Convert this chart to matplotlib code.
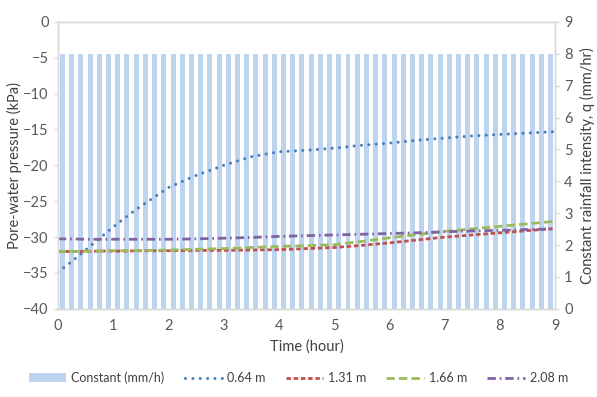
import matplotlib

matplotlib.use("Agg")
import matplotlib.pyplot as plt
import numpy as np

plt.rcParams["font.family"] = ["Lato", "DejaVu Sans"]

# pore-water pressure (kPa) at four depths
time_h = [0, 0.25, 0.5, 0.75, 1.0, 1.25, 1.5, 1.75, 2.0, 2.5, 3.0, 3.5,
          4.0, 4.5, 5.0, 5.5, 6.0, 6.5, 7.0, 7.5, 8.0, 8.5, 9.0]
p_064 = [-34.9, -33.4, -31.8, -30.2, -28.6, -27.1, -25.7, -24.4, -23.1, -21.4,
         -20.0, -18.8, -18.1, -17.9, -17.6, -17.2, -16.9, -16.5, -16.2, -15.9,
         -15.7, -15.5, -15.3]
p_131 = [-32.0, -32.0, -32.0, -31.95, -31.95, -31.95, -31.9, -31.9, -31.9, -31.85,
         -31.85, -31.8, -31.75, -31.6, -31.45, -31.15, -30.8, -30.4, -30.0, -29.7,
         -29.4, -29.1, -28.8]
p_166 = [-32.0, -32.0, -31.95, -31.95, -31.9, -31.9, -31.85, -31.85, -31.8, -31.7,
         -31.6, -31.45, -31.3, -31.2, -31.05, -30.6, -30.1, -29.65, -29.2, -28.85,
         -28.5, -28.15, -27.8]
p_208 = [-30.25, -30.25, -30.3, -30.3, -30.3, -30.3, -30.3, -30.3, -30.3, -30.25,
         -30.15, -30.05, -29.9, -29.8, -29.7, -29.6, -29.5, -29.4, -29.25, -29.15,
         -29.05, -28.95, -28.85]

# constant rainfall, one bar per 10 minutes
rain_min = np.arange(5, 540, 10)
rain_q = np.full(rain_min.size, 8.0)

grey = "#D9D9D9"
text_c = "#404040"
tick_c = "#595959"

fig = plt.figure(figsize=(5.97, 3.97), dpi=100, facecolor="white")
ax = fig.add_axes([0.097, 0.222, 0.833, 0.723])
ax2 = ax.twinx()

ax2.bar(rain_min / 60, rain_q, width=0.09, color="#BDD3EE", linewidth=0,
        label="Constant (mm/h)")
ax2.set_ylim(0, 9)
ax2.set_yticks(range(0, 10))

ax.set_zorder(ax2.get_zorder() + 1)
ax.patch.set_visible(False)

ax.plot(time_h, p_064, color="#4A7EBB", lw=2.2, ls=(0, (0.01, 2.4)),
        dash_capstyle="round", label="0.64 m")
ax.plot(time_h, p_131, color="#C0504D", lw=2.0, ls=(0, (1.6, 1.0)),
        label="1.31 m")
ax.plot(time_h, p_166, color="#9BBB59", lw=2.0, ls=(0, (3.0, 1.5)),
        label="1.66 m")
ax.plot(time_h, p_208, color="#8064A2", lw=2.0, ls=(0, (3.0, 1.4, 0.6, 1.4)),
        label="2.08 m")

ax.set_xlim(0, 9)
ax.set_ylim(-40, 0)
ax.set_xticks(range(0, 10))
ax.set_yticks(range(-40, 1, 5))

for a in (ax, ax2):
    for s in a.spines.values():
        s.set_color(grey)
        s.set_linewidth(1.0)
    a.tick_params(colors=grey, labelcolor=tick_c, labelsize=10.5, length=3,
                  width=1.0, direction="out")
ax.tick_params(axis="x", length=0, pad=7)

ax.set_xlabel("Time (hour)", fontsize=10.5, color=text_c, labelpad=5)
ax.set_ylabel("Pore-water pressure (kPa)", fontsize=10.5, color=text_c, labelpad=1)
ax2.set_ylabel("Constant rainfall intensity, q (mm/hr)", fontsize=10.5,
               color=text_c, labelpad=5)

h2, l2 = ax2.get_legend_handles_labels()
h1, l1 = ax.get_legend_handles_labels()
fig.legend(h2 + h1, l2 + l1, loc="center", bbox_to_anchor=(0.5, 0.048), ncol=5,
           frameon=False, fontsize=9, handlelength=3.0, handletextpad=0.4,
           columnspacing=1.6, labelcolor=text_c)

fig.savefig("out.png", dpi=100)
